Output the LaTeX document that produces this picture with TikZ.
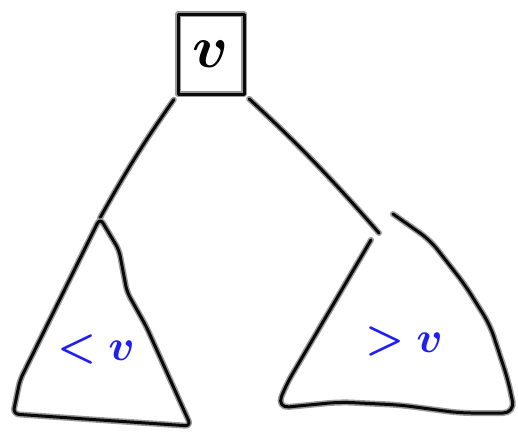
\documentclass[tikz,border=0pt]{standalone}
\usepackage{graphicx}
\usepackage{bm}
\usepackage{tikz}
\usetikzlibrary{positioning,calc}

\newcommand{\bigmath}[2]{\scalebox{#1}{$\bm{#2}$}}

\begin{document}
\begin{tikzpicture}[x=1bp,y=-1bp,
    pen/.style={draw=penhalo,double=penink,double distance=3bp,line width=1.5bp,
        line cap=round,line join=round},
    rootbox/.style={pen,minimum width=66bp,minimum height=80bp,inner sep=0pt},
    subtag/.style={text=inkblue}]
            \definecolor{penink}{HTML}{0A0A0A}
            \definecolor{penhalo}{HTML}{9A9A9A}
            \definecolor{inkblue}{HTML}{1E1EF5}
            \useasboundingbox (0,0) rectangle (518,432);
            \node[rootbox] (root) at (211,54) {\bigmath{6}{v}};
            \coordinate (la) at (100,218);
            \coordinate (ra) at (379,233);
            \draw[pen,shorten <=6bp] (root.south west) to[bend right=3] (la);
            \draw[pen,shorten <=6bp] (root.south east) to[bend left=3] (ra);
            % left subtree
            \draw[pen,rounded corners=6bp] (la) -- (20,380) -- (13,414) -- (100,420)
                -- (191,426) -- (146,326) -- (127,292) -- (119,250) -- cycle;
            \node[subtag] (lsub) at (96,350) {\bigmath{4.4}{<v}};
            % right subtree
            \draw[pen,rounded corners=12bp] (371,240) -- (286,385) -- (277,408) -- (340,402)
                -- (400,405) -- (460,413) -- (515,413) -- (508,380) -- (490,325)
                -- (465,285) -- (430,240) -- (393,214);
            \node[subtag] (rsub) at (404,342) {\bigmath{4.4}{>v}};
\end{tikzpicture}
\end{document}
